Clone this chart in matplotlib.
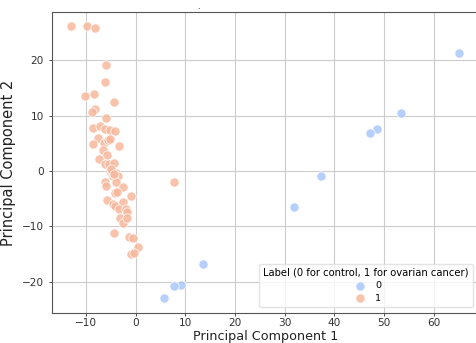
import matplotlib
matplotlib.use("Agg")
import matplotlib.pyplot as plt
from matplotlib import cm

# Label 0 (control)
pc1_control = [65.1, 53.4, 48.5, 47.2, 37.2, 31.8, 13.5, 9.1, 7.8, 5.7]
pc2_control = [21.3, 10.4, 7.6, 6.8, -0.9, -6.5, -16.9, -20.6, -20.8, -23.0]

# Label 1 (ovarian cancer)
pc1_cancer = [-12.95, -9.8, -8.2, -6.0, -6.2, -10.3, -8.4, -4.4, -8.25, -8.8,
              -6.0, -8.6, -7.2, -6.1, -5.2, -4.2, -7.6, -6.4, -5.6, -5.2,
              -8.7, -3.4, -6.6, -5.7, -7.3, -6.2, -5.4, -4.4, -5.2, -4.8,
              -4.0, -3.6, -4.6, -6.1, -6.0, -4.0, -2.6, -4.1, -3.7, -5.7,
              -4.6, -4.1, -2.6, -1.0, -3.3, -1.95, -1.7, -3.2, -2.6, -1.7,
              -4.4, -1.4, -0.5, 0.5, -1.0, -0.3, 7.7, -5.0, -4.4]
pc2_cancer = [26.2, 26.3, 25.8, 19.2, 16.1, 13.6, 13.9, 12.4, 11.2, 10.7,
              9.5, 7.8, 8.2, 7.6, 7.5, 7.2, 5.9, 5.0, 5.6, 5.7,
              4.8, 4.6, 3.8, 2.9, 2.1, 1.2, 1.2, 1.5, 0.0, -0.1,
              -0.3, -0.9, -1.0, -2.0, -2.7, -2.0, -2.9, -3.9, -3.75, -5.2,
              -5.9, -6.3, -5.7, -4.6, -6.9, -6.8, -7.4, -8.5, -9.5, -8.5,
              -11.2, -11.9, -12.1, -13.7, -15.1, -14.8, -2.0, 0.4, -0.6]

labels = ["0", "1"]
legend_title = "Label (0 for control, 1 for ovarian cancer)"
xlabel = "Principal Component 1"
ylabel = "Principal Component 2"

W, H = 477, 343
fig = plt.figure(figsize=(W / 100, H / 100), dpi=100)
ax = fig.add_axes([52.3 / W, 1 - 312.5 / H, (478.5 - 52.3) / W, (312.5 - 12.3) / H])

c0 = cm.coolwarm(1 / 3)
c1 = cm.coolwarm(2 / 3)
ax.scatter(pc1_control, pc2_control, s=44, color=c0, alpha=0.85,
           edgecolors="white", linewidths=0.6, label=labels[0], zorder=3)
ax.scatter(pc1_cancer, pc2_cancer, s=44, color=c1, alpha=0.85,
           edgecolors="white", linewidths=0.6, label=labels[1], zorder=3)

ax.set_xlim(-16.8, 69.0)
ax.set_ylim(-25.6, 28.7)
ax.set_xticks([-10, 0, 10, 20, 30, 40, 50, 60])
ax.set_yticks([-20, -10, 0, 10, 20])
ax.grid(True, color="#cccccc", linewidth=0.8)
ax.set_axisbelow(True)
for s in ax.spines.values():
    s.set_color("#555555")
    s.set_linewidth(0.8)
ax.tick_params(labelsize=7.6, colors="#333333", length=2.5, width=0.6)
ax.tick_params(axis="x", pad=1.5)
ax.set_xlabel(xlabel, fontsize=9.2, color="#222222", va="bottom")
ax.xaxis.set_label_coords(265.4 / W, 0.2 / H, transform=fig.transFigure)
ax.set_ylabel(ylabel, fontsize=10.5, color="#222222", labelpad=4)

leg = ax.legend(title=legend_title, loc="lower right", fontsize=6.8,
                title_fontsize=7.2, borderaxespad=0.6, framealpha=0.8,
                handletextpad=0.6, borderpad=0.45, labelspacing=0.35)
leg.get_frame().set_edgecolor("#dddddd")

fig.text(198 / W, 1 - 9 / H, ".", fontsize=6, ha="center", va="baseline")

fig.savefig("out.png", dpi=100)
